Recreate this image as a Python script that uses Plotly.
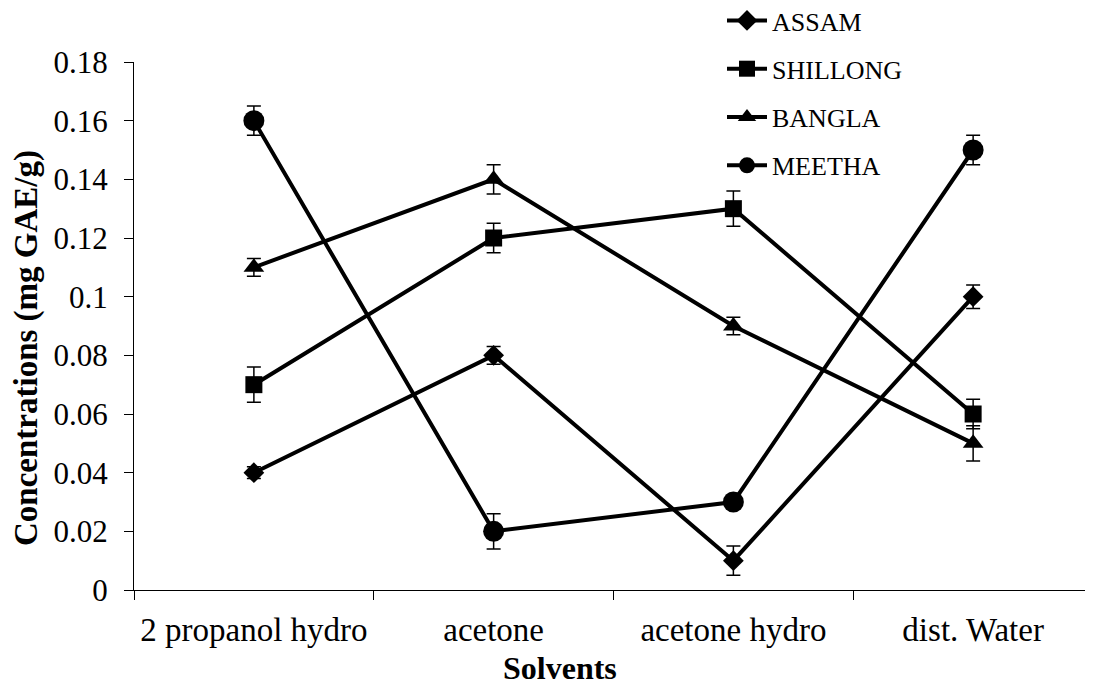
import plotly.graph_objects as go

solvents = ["2 propanol hydro", "acetone", "acetone hydro", "dist. Water"]
series_names = ["ASSAM", "SHILLONG", "BANGLA", "MEETHA"]
assam = [0.04, 0.08, 0.01, 0.10]
shillong = [0.07, 0.12, 0.13, 0.06]
bangla = [0.11, 0.14, 0.09, 0.05]
meetha = [0.16, 0.02, 0.03, 0.15]
assam_err = [0.002, 0.003, 0.005, 0.004]
shillong_err = [0.006, 0.005, 0.006, 0.005]
bangla_err = [0.003, 0.005, 0.003, 0.006]
meetha_err = [0.005, 0.006, 0.002, 0.005]
y_ticks = [0, 0.02, 0.04, 0.06, 0.08, 0.1, 0.12, 0.14, 0.16, 0.18]
y_tick_text = ["0", "0.02", "0.04", "0.06", "0.08", "0.1", "0.12", "0.14", "0.16", "0.18"]

values = [assam, shillong, bangla, meetha]
errors = [assam_err, shillong_err, bangla_err, meetha_err]
symbols = ["diamond", "square", "triangle-up", "circle"]
sizes = [16, 17, 18, 21]

FONT = "Liberation Serif"

fig = go.Figure()
for i, name in enumerate(series_names):
    fig.add_trace(go.Scatter(
        x=solvents, y=values[i], name=name, mode="lines+markers",
        legendgroup=name,
        line=dict(color="black", width=4),
        marker=dict(symbol=symbols[i], size=sizes[i], color="black"),
        error_y=dict(type="data", array=errors[i], visible=True,
                     color="black", thickness=1.5, width=7),
    ))

W, H = 1085, 679
L, T, B = 126, 54, 97
PW, PH = W - L, H - T - B

fig.update_layout(
    width=W, height=H,
    paper_bgcolor="white", plot_bgcolor="white",
    margin=dict(l=L, r=0, t=T, b=B, pad=0, autoexpand=False),
    font=dict(family=FONT, color="black", size=28),
    showlegend=True,
    legend=dict(x=(722 - 8 - L) / PW, y=1 + (T + 11) / PH, xanchor="left", yanchor="top",
                font=dict(family=FONT, size=26, color="black"),
                traceorder="grouped", tracegroupgap=11.5,
                bgcolor="rgba(0,0,0,0)", itemwidth=40),
    xaxis=dict(type="category", range=[-0.5, 3.5], showline=True,
               linecolor="black", linewidth=1, ticks="outside", ticklen=9,
               tickcolor="black", tickson="boundaries", showgrid=False,
               ticklabelstandoff=10,
               tickfont=dict(family=FONT, size=33), zeroline=False),
    yaxis=dict(range=[0, 0.18], showline=True, linecolor="black", linewidth=1,
               ticks="outside", ticklen=9, tickcolor="black",
               tickvals=y_ticks, ticktext=y_tick_text, showgrid=False,
               ticklabelstandoff=10,
               zeroline=False, tickfont=dict(family=FONT, size=31)),
    annotations=[
        dict(text="<b>Solvents</b>", xref="paper", yref="paper",
             x=(560 - 8 - L) / PW, y=-(668 - 8 - (T + PH)) / PH,
             xanchor="center", yanchor="middle",
             showarrow=False, font=dict(family=FONT, size=32)),
        dict(text="<b>Concentrations (mg GAE/g)</b>", xref="paper", yref="paper",
             x=(26 - 8 - L) / PW, y=(T + PH - (348 - 8)) / PH,
             xanchor="center", yanchor="middle",
             textangle=-90, showarrow=False, font=dict(family=FONT, size=33)),
    ],
)

fig.write_html("out.html")
